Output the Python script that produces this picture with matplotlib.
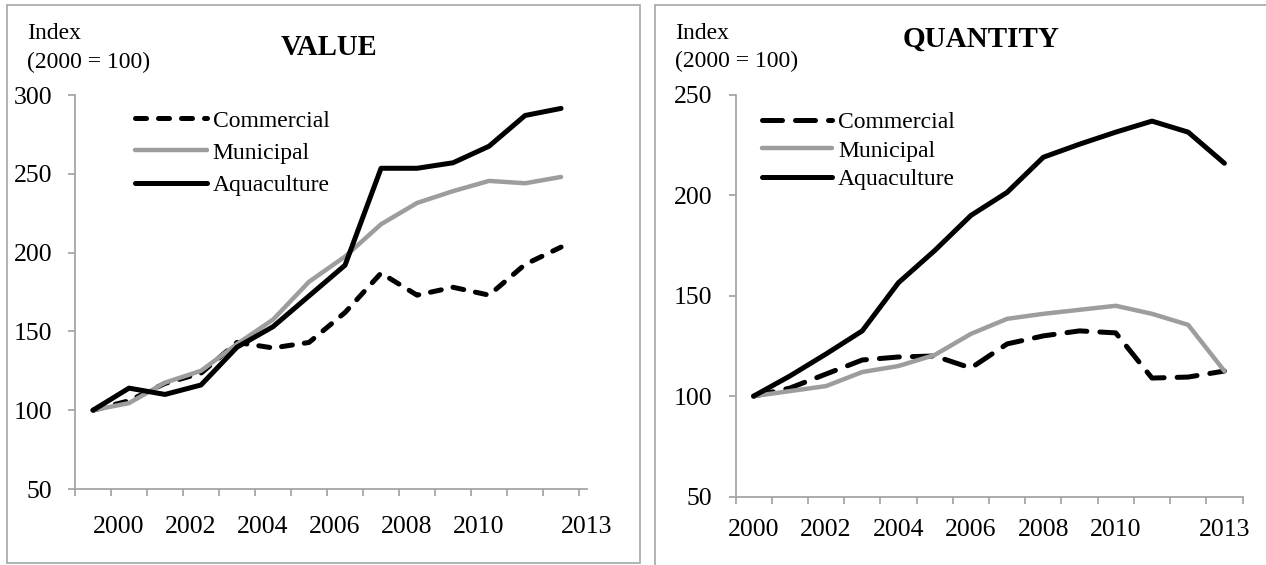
import matplotlib.pyplot as plt
from matplotlib.patches import Rectangle

plt.rcParams['font.family'] = ['Liberation Serif', 'DejaVu Serif']

# data (index, 2000 = 100)
years = list(range(2000, 2014))
tick_years = [2000, 2002, 2004, 2006, 2008, 2010, 2013]
series_names = ['Commercial', 'Municipal', 'Aquaculture']

value_commercial = [100, 106, 117, 123.5, 143, 139.5, 143, 162, 187, 173, 178, 173, 192.5, 203.5]
value_municipal = [100, 104.5, 117.5, 125, 142, 157.5, 181.5, 197.5, 218, 231.5, 239, 245.5, 244, 248]
value_aquaculture = [100, 114, 110, 116, 140, 153, 172.5, 192, 253.5, 253.5, 257, 267.5, 287, 291.5]

qty_commercial = [100, 104, 111, 118, 119.5, 120, 114, 126, 130, 132.5, 131.5, 109, 109.5, 112.5]
qty_municipal = [100, 102.5, 105, 112, 115, 120.5, 131, 138.5, 141, 143, 145, 141, 135.5, 112.5]
qty_aquaculture = [100, 110, 121, 132.5, 156.5, 172.5, 190, 201.5, 219, 225.5, 231.5, 237, 231.5, 216]

W, H = 1266, 565
GRAY_AXIS = '#a6a6a6'
GRAY_LINE = '#9d9d9d'


def fx(px):
    return px / W


def fy(py):
    return 1 - py / H


fig = plt.figure(figsize=(W / 100, H / 100), dpi=100)

# panel borders
fig.patches.append(Rectangle((fx(7), fy(563)), fx(633), (563 - 5) / H, fill=False,
                             ec=GRAY_AXIS, lw=1.2, transform=fig.transFigure))
fig.patches.append(Rectangle((fx(655), fy(600)), fx(700), (600 - 5.5) / H, fill=False,
                             ec=GRAY_AXIS, lw=1.2, transform=fig.transFigure))

ax1 = fig.add_axes([fx(75), fy(489), 512 / W, 394 / H])
ax2 = fig.add_axes([fx(735.5), fy(496.5), 507 / W, 401.5 / H])


def style_axis(ax, ylim, yticks, label_shift, xpad):
    x = list(range(len(years)))
    ax.set_xlim(-0.5, len(years) - 0.5)
    ax.set_ylim(*ylim)
    ax.set_yticks(yticks)
    ax.set_xticks([years.index(y) + label_shift for y in tick_years],
                  [str(y) for y in tick_years])
    ax.set_xticks([i - 0.5 for i in range(len(years) + 1)], minor=True)
    for s in ['top', 'right']:
        ax.spines[s].set_visible(False)
    for s in ['left', 'bottom']:
        ax.spines[s].set_color(GRAY_AXIS)
        ax.spines[s].set_linewidth(1.3)
    ax.tick_params(axis='y', direction='out', length=5, width=1.3, color=GRAY_AXIS,
                   labelsize=18.5, pad=11.5)
    ax.tick_params(axis='x', which='major', length=0, labelsize=18.5, pad=xpad)
    ax.tick_params(axis='x', which='minor', direction='out', length=5, width=1.3,
                   color=GRAY_AXIS)
    return x


# VALUE
x = style_axis(ax1, (50, 300), [50, 100, 150, 200, 250, 300], 0.72, 19.7)
ax1.plot(x, value_commercial, color='black', lw=3.6, dashes=(2.2, 2.4),
         dash_capstyle='round', label=series_names[0])
ax1.plot(x, value_municipal, color=GRAY_LINE, lw=3.2, solid_joinstyle='round',
         solid_capstyle='round', label=series_names[1])
ax1.plot(x, value_aquaculture, color='black', lw=3.6, solid_joinstyle='round',
         solid_capstyle='round', label=series_names[2])
ax1.legend(loc='upper left', bbox_to_anchor=(fx(135), fy(110)), bbox_transform=fig.transFigure,
           frameon=False, fontsize=17, borderpad=0, borderaxespad=0, handlelength=3.05,
           handletextpad=0.24, labelspacing=0.45)

# QUANTITY
x = style_axis(ax2, (50, 250), [50, 100, 150, 200, 250], 0.0, 15.9)
ax2.plot(x, qty_commercial, color='black', lw=3.6, dashes=(4, 2.6),
         dash_capstyle='round', label=series_names[0])
ax2.plot(x, qty_municipal, color=GRAY_LINE, lw=3.2, solid_joinstyle='round',
         solid_capstyle='round', label=series_names[1])
ax2.plot(x, qty_aquaculture, color='black', lw=3.6, solid_joinstyle='round',
         solid_capstyle='round', label=series_names[2])
ax2.legend(loc='upper left', bbox_to_anchor=(fx(762), fy(111.5)), bbox_transform=fig.transFigure,
           frameon=False, fontsize=17, borderpad=0, borderaxespad=0, handlelength=2.95,
           handletextpad=0.27, labelspacing=0.3)

# titles and axis captions
fig.text(fx(328.5), fy(55), 'VALUE', ha='center', va='baseline', fontsize=20.6, weight='bold')
fig.text(fx(981.5), fy(46.5), 'QUANTITY', ha='center', va='baseline', fontsize=21,
         weight='bold')
for left, base2 in [(27, 68.3), (675, 66.7)]:
    fig.text(fx(left), fy(39.3), 'Index', ha='left', va='baseline', fontsize=17)
    fig.text(fx(left), fy(base2), '(2000 = 100)', ha='left', va='baseline', fontsize=17)

fig.savefig('out.png', dpi=100)
